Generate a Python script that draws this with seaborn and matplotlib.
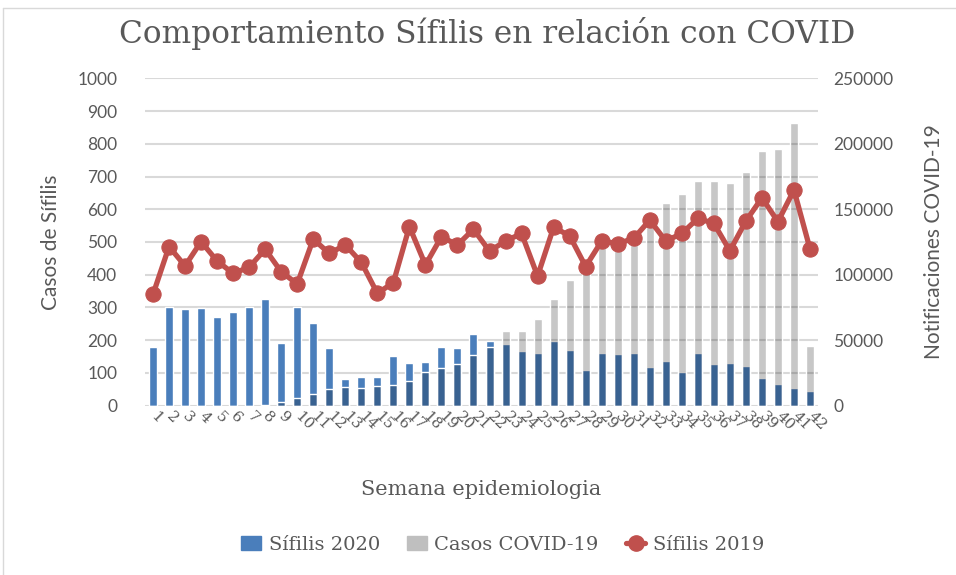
import numpy as np
import pandas as pd
import matplotlib
matplotlib.use("Agg")
import matplotlib.pyplot as plt
import seaborn as sns
from matplotlib.patches import Patch
from matplotlib.lines import Line2D

# ---- data ----
weeks = [str(i) for i in range(1, 43)]
sifilis_2020 = [178, 301, 294, 297, 271, 285, 300, 325, 192, 300, 253, 176, 83, 89,
                89, 152, 131, 135, 180, 175, 218, 198, 187, 167, 160, 198, 170, 109,
                162, 157, 160, 117, 138, 102, 160, 127, 129, 122, 84, 66, 55, 45]
casos_covid = [0, 0, 0, 0, 0, 0, 0, 300, 2500, 5600, 8700, 12500, 14500, 13700,
               15000, 15500, 19000, 26000, 28500, 31800, 39000, 45000, 57300, 57300,
               66400, 81200, 96000, 101000, 121400, 127000, 131000, 140000, 154600,
               161400, 171600, 171600, 170300, 178200, 194700, 195800, 216100, 45600]
sifilis_2019 = [340, 486, 427, 501, 442, 404, 423, 478, 409, 372, 509, 465, 491, 438,
                343, 376, 547, 430, 516, 491, 539, 472, 503, 526, 396, 545, 519, 425,
                503, 495, 511, 567, 503, 526, 572, 557, 473, 564, 635, 562, 659, 479]
left_ticks = [0, 100, 200, 300, 400, 500, 600, 700, 800, 900, 1000]
right_ticks = [0, 50000, 100000, 150000, 200000, 250000]

title = "Comportamiento Sífilis en relación con COVID"
xlabel = "Semana epidemiologia"
ylabel_left = "Casos de Sífilis"
ylabel_right = "Notificaciones COVID-19"
legend_labels = ["Sífilis 2020", "Casos COVID-19", "Sífilis 2019"]

df = pd.DataFrame({"semana": weeks, "s2020": sifilis_2020,
                   "covid": casos_covid, "s2019": sifilis_2019})
df["pos"] = np.arange(len(weeks))

# ---- style ----
sns.set_style("white")
plt.rcParams["font.family"] = ["Lato", "DejaVu Sans"]
TXT = "#595959"
BLUE = "#4a7ebb"
RED = "#c0504d"
GRID = "#d9d9d9"
SERIF = ["DejaVu Serif"]

fig = plt.figure(figsize=(9.56, 5.75), dpi=100)
ax = fig.add_axes([145/956, 1-405.7/575, (818-145)/956, (405.7-78.3)/575])
ax2 = ax.twinx()
ax3 = ax.twinx()

sns.barplot(data=df, x="semana", y="s2020", order=weeks, color=BLUE,
            width=0.5, ax=ax, saturation=1, zorder=2)
sns.barplot(data=df, x="semana", y="covid", order=weeks, color=(0, 0, 0, 0.22),
            width=0.5, ax=ax2, saturation=1, zorder=2)
sns.lineplot(data=df, x="pos", y="s2019", ax=ax3, color=RED, lw=3.8,
             marker="o", markersize=11, markeredgecolor=RED, zorder=3)

ax.set_ylim(0, 1000)
ax2.set_ylim(0, 250000)
ax3.set_ylim(0, 1000)
ax.set_xlim(-0.5, len(weeks) - 0.5)
ax3.set_xlim(-0.5, len(weeks) - 0.5)

ax.set_yticks(left_ticks)
ax.set_yticklabels([str(t) for t in left_ticks])
ax2.set_yticks(right_ticks)
ax2.set_yticklabels([str(t) for t in right_ticks])
ax3.set_yticks([])
ax3.set_ylabel("")
ax3.set_xlabel("")

ax.yaxis.grid(True, color=GRID, lw=1.5, zorder=0)
ax.set_axisbelow(True)
for a in (ax, ax2, ax3):
    for s in a.spines.values():
        s.set_visible(False)
    a.tick_params(length=0)

ax.tick_params(axis="y", labelsize=12.5, labelcolor=TXT, pad=20)
ax2.tick_params(axis="y", labelsize=12.5, labelcolor=TXT, pad=11)
ax.set_xticks(range(len(weeks)))
ax.set_xticklabels(weeks, rotation=-45, ha="left", va="center",
                   rotation_mode="anchor", fontsize=11, color=TXT, family=SERIF)
ax.tick_params(axis="x", pad=6)

ax.set_xlabel(xlabel, fontsize=15, color=TXT, family=SERIF, labelpad=34)
ax.set_ylabel(ylabel_left, fontsize=15, color=TXT, labelpad=12)
ax2.set_ylabel(ylabel_right, fontsize=15, color=TXT, labelpad=22)

fig.text(487/956, 1-33/575, title, ha="center", va="center",
         fontsize=22.5, color=TXT, family=SERIF)

handles = [Patch(facecolor=BLUE, edgecolor=BLUE),
           Patch(facecolor="#bfbfbf", edgecolor="#bfbfbf"),
           Line2D([0], [0], color=RED, lw=3.8, marker="o", markersize=11)]
leg = fig.legend(handles, legend_labels, loc="center", ncol=3,
                 bbox_to_anchor=(503/956, 1-545/575), frameon=False,
                 prop={"family": SERIF, "size": 14}, handlelength=1.0,
                 handletextpad=0.4, columnspacing=1.4)
for t in leg.get_texts():
    t.set_color(TXT)

# chart border (left/top visible)
fig.add_artist(Line2D([3/956, 3/956], [0, 1-8/575], color=GRID, lw=1,
                      transform=fig.transFigure))
fig.add_artist(Line2D([3/956, 1], [1-8/575, 1-8/575], color=GRID, lw=1,
                      transform=fig.transFigure))

fig.savefig("out.png", dpi=100)
